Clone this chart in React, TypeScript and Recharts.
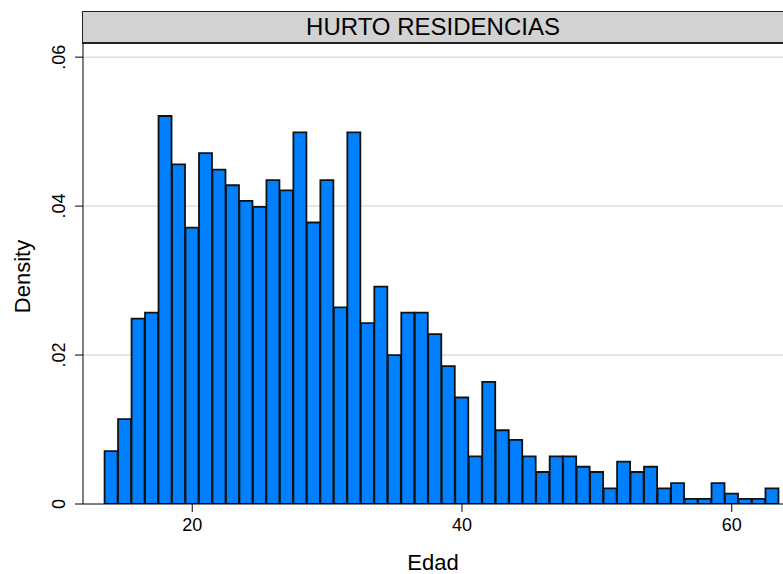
import React from 'react';
import { ComposedChart, Bar, XAxis, YAxis, CartesianGrid } from 'recharts';

const ages = [
  14, 15, 16, 17, 18, 19, 20, 21, 22, 23,
  24, 25, 26, 27, 28, 29, 30, 31, 32, 33,
  34, 35, 36, 37, 38, 39, 40, 41, 42, 43,
  44, 45, 46, 47, 48, 49, 50, 51, 52, 53,
  54, 55, 56, 57, 58, 59, 60, 61, 62, 63,
];
const densities = [
  0.0071, 0.0114, 0.0249, 0.0257, 0.0521, 0.0456, 0.0371, 0.0471, 0.0449, 0.0428,
  0.0407, 0.0399, 0.0435, 0.0421, 0.0499, 0.0378, 0.0435, 0.0264, 0.0499, 0.0243,
  0.0292, 0.0200, 0.0257, 0.0257, 0.0228, 0.0185, 0.0143, 0.0064, 0.0164, 0.0099,
  0.0086, 0.0064, 0.0043, 0.0064, 0.0064, 0.0050, 0.0043, 0.0021, 0.0057, 0.0043,
  0.0050, 0.0021, 0.0028, 0.0007, 0.0007, 0.0028, 0.0014, 0.0007, 0.0007, 0.0021,
];
const xTicks = [20, 40, 60];
const yTicks = [0, 0.02, 0.04, 0.06];
const panelTitle = 'HURTO RESIDENCIAS';
const xTitle = 'Edad';
const yTitle = 'Density';

const data = ages.map((a, i) => ({ age: a, density: densities[i] }));

const FONT = '"Liberation Sans", Arial, Helvetica, sans-serif';

const fmtY = (v: number) => (v === 0 ? '0' : v.toFixed(2).replace(/^0/, ''));

const YTick = (props: any) => {
  const { x, y, payload } = props;
  const cx = x - 14;
  return (
    <text
      x={cx}
      y={y}
      transform={`rotate(-90 ${cx} ${y})`}
      textAnchor="middle"
      dominantBaseline="central"
      fontSize={18}
      fontFamily={FONT}
      fill="#000"
    >
      {fmtY(payload.value)}
    </text>
  );
};

const YTitle = (props: any) => {
  const vb = props.viewBox || {};
  const cx = vb.x + 22;
  const cy = vb.y + vb.height / 2 + 3;
  return (
    <text
      x={cx}
      y={cy}
      transform={`rotate(-90 ${cx} ${cy})`}
      textAnchor="middle"
      dominantBaseline="central"
      fontSize={22}
      fontFamily={FONT}
      fill="#000"
    >
      {yTitle}
    </text>
  );
};

const XTitle = (props: any) => {
  const vb = props.viewBox || {};
  const cx = vb.x + vb.width / 2;
  const cy = vb.y + 58;
  return (
    <text
      x={cx}
      y={cy}
      textAnchor="middle"
      dominantBaseline="central"
      fontSize={22}
      fontFamily={FONT}
      fill="#000"
    >
      {xTitle}
    </text>
  );
};

export default function App() {
  return (
    <div
      style={{
        position: 'absolute',
        left: 0,
        top: 0,
        width: 783,
        height: 574,
        background: '#fff',
        overflow: 'hidden',
        fontFamily: FONT,
      }}
    >
      <ComposedChart
        width={783}
        height={574}
        data={data}
        margin={{ top: 43, right: 0, bottom: 0, left: 0 }}
        barCategoryGap={0}
        barGap={0}
      >
        <CartesianGrid
          vertical={false}
          horizontal={true}
          stroke="#dedede"
          strokeWidth={1.5}
          horizontalValues={[0.02, 0.04, 0.06]}
        />
        <XAxis
          dataKey="age"
          type="number"
          domain={[11.9, 63.8]}
          allowDataOverflow
          ticks={xTicks}
          interval={0}
          height={70}
          tickSize={8}
          tickMargin={6}
          stroke="#000"
          tick={{ fontSize: 18, fill: '#000', fontFamily: FONT }}
          label={<XTitle />}
        />
        <YAxis
          type="number"
          domain={[0, 0.0619]}
          allowDataOverflow
          ticks={yTicks}
          interval={0}
          width={83}
          tickSize={8}
          stroke="#000"
          tick={<YTick />}
          label={<YTitle />}
        />
        <Bar
          dataKey="density"
          fill="#0080ff"
          stroke="#111"
          strokeWidth={1.8}
          isAnimationActive={false}
        />
      </ComposedChart>
      <div
        style={{
          position: 'absolute',
          left: 82,
          top: 11,
          width: 710,
          height: 30,
          background: '#d2d2d2',
          borderTop: '1.5px solid #222',
          borderLeft: '1.5px solid #222',
          borderBottom: '2px solid #222',
          boxSizing: 'content-box',
        }}
      />
      <div
        style={{
          position: 'absolute',
          left: 83,
          top: 12,
          width: 700,
          height: 30,
          lineHeight: '30px',
          textAlign: 'center',
          fontSize: 24,
          color: '#000',
          fontFamily: FONT,
        }}
      >
        {panelTitle}
      </div>
    </div>
  );
}
